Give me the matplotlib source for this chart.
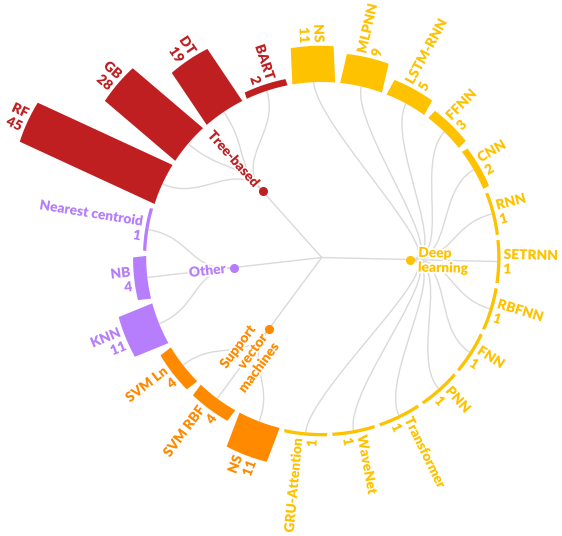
import numpy as np
import matplotlib.pyplot as plt
from matplotlib.patches import Polygon, PathPatch
from matplotlib.path import Path
import matplotlib.patheffects as pe

plt.rcParams['font.family'] = ['Lato', 'DejaVu Sans']

# leaves listed clockwise, starting at the top of the circle
dl_names = ['NS', 'MLPNN', 'LSTM-RNN', 'FFNN', 'CNN', 'RNN', 'SETRNN', 'RBFNN',
            'FNN', 'PNN', 'Transformer', 'WaveNet', 'GRU-Attention']
dl_counts = [11, 9, 5, 3, 2, 1, 1, 1, 1, 1, 1, 1, 1]
svm_names = ['NS', 'SVM RBF', 'SVM Ln']
svm_counts = [11, 4, 4]
other_names = ['KNN', 'NB', 'Nearest centroid']
other_counts = [11, 4, 1]
tree_names = ['RF', 'GB', 'DT', 'BART']
tree_counts = [45, 28, 19, 2]

group_labels = ['Deep\nlearning', 'Support\nvector\nmachines', 'Other', 'Tree-based']
group_colors = ['#FFC200', '#FF8A00', '#B67EFD', '#C01F22']
groups = [(dl_names, dl_counts), (svm_names, svm_counts),
          (other_names, other_counts), (tree_names, tree_counts)]

R = 175.5        # radius of the ring of bars
R_GROUP = 88.5   # radius of the group nodes
SCALE = 3.3      # bar length per count
LINE = '#DADADA'
FS = 9.9
n_leaves = sum(len(g[0]) for g in groups)
slot = 360 / n_leaves
half = slot / 2 - 0.8
start = 92.6


def pol(a, r):
    t = np.radians(a)
    return r * np.cos(t), r * np.sin(t)


halo = [pe.withStroke(linewidth=2.5, foreground='white')]

fig = plt.figure(figsize=(5.62, 5.36), dpi=100)
ax = fig.add_axes([0, 0, 1, 1])
ax.set_xlim(-321.7, 240.3)
ax.set_ylim(-278.5, 257.5)
ax.axis('off')

i = 0
for (names, counts), glabel, color in zip(groups, group_labels, group_colors):
    angles = [start - (i + j) * slot for j in range(len(names))]
    i += len(names)
    ga = np.mean(angles)
    gx, gy = pol(ga, R_GROUP)
    ax.plot([0, gx], [0, gy], color=LINE, lw=1, zorder=1)

    rm = (R_GROUP + R) / 2
    for name, n, a in zip(names, counts, angles):
        # radial link from group node to leaf
        verts = [pol(ga, R_GROUP), pol(ga, rm), pol(a, rm), pol(a, R)]
        codes = [Path.MOVETO, Path.CURVE4, Path.CURVE4, Path.CURVE4]
        ax.add_patch(PathPatch(Path(verts, codes), fill=False, ec=LINE, lw=1, zorder=1))

        # bar
        arc = np.radians(np.linspace(a - half, a + half, 24))
        inner = np.column_stack([R * np.cos(arc), R * np.sin(arc)])
        L = n * SCALE
        ux, uy = pol(a, L)
        outer = inner[::-1] + [ux, uy]
        ax.add_patch(Polygon(np.vstack([inner, outer]), closed=True,
                             fc=color, ec='none', zorder=2))

        # label
        tx, ty = pol(a, R + L + 3)
        left = np.cos(np.radians(a)) < 0
        ax.text(tx, ty, f'{name}\n{n}', rotation=a - 180 if left else a,
                rotation_mode='anchor', ha='right' if left else 'left',
                va='center', multialignment='right' if left else 'left',
                color=color, fontsize=FS, fontweight='heavy', linespacing=1.15,
                path_effects=halo, zorder=3)

    # group node and label
    ax.plot(gx, gy, 'o', color=color, ms=5.5, zorder=4)
    tx, ty = pol(ga, R_GROUP + 8)
    left = np.cos(np.radians(ga)) < 0
    ax.text(tx, ty, glabel, rotation=ga - 180 if left else ga,
            rotation_mode='anchor', ha='right' if left else 'left',
            va='center', multialignment='right' if left else 'left',
            color=color, fontsize=FS, fontweight='heavy', linespacing=1.15,
            path_effects=halo, zorder=3)

fig.savefig('out.png', dpi=100)
